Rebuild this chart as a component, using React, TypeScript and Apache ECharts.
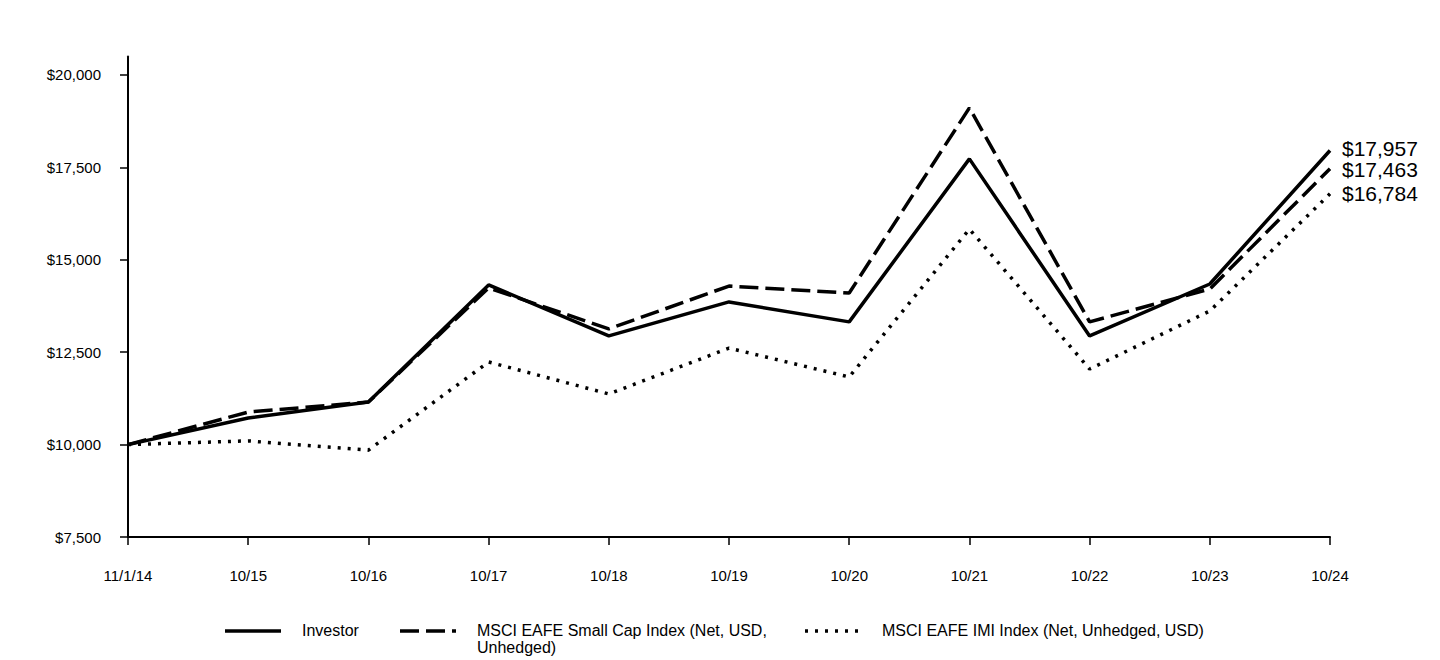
import React, { useEffect, useRef } from "react";
import * as echarts from "echarts";

const categories = ["11/1/14", "10/15", "10/16", "10/17", "10/18", "10/19", "10/20", "10/21", "10/22", "10/23", "10/24"];
const investor = [10000, 10720, 11150, 14320, 12940, 13860, 13320, 17730, 12940, 14345, 17957];
const smallCap = [10000, 10880, 11150, 14240, 13130, 14290, 14100, 19110, 13320, 14210, 17463];
const imi = [10000, 10100, 9850, 12235, 11370, 12610, 11830, 15830, 12045, 13615, 16784];
const names = ["Investor", "MSCI EAFE Small Cap Index (Net, USD,\nUnhedged)", "MSCI EAFE IMI Index (Net, Unhedged, USD)"];
const dashes: any[] = [null, [19, 7], [3, 7]];

const FONT = "Liberation Sans, Arial, sans-serif";

export default function App() {
  const ref = useRef<HTMLDivElement>(null);
  useEffect(() => {
    if (!ref.current) return;
    const chart = echarts.init(ref.current, null, { renderer: "svg" });
    const fmt = (v: number) => "$" + Math.round(v).toLocaleString("en-US");
    const mkSeries = (name: string, data: number[], type: any, offY: number) => ({
      name,
      type: "line",
      data,
      symbol: "none",
      lineStyle: { color: "#000", width: 3.5, type: type || "solid" },
      itemStyle: { color: "#000" },
      endLabel: {
        show: true,
        formatter: (p: any) => fmt(p.value),
        fontFamily: FONT,
        fontSize: 21,
        lineHeight: 20,
        color: "#000",
        distance: 12,
        offset: [0, offY],
      },
    });
    const legendX = [225, 400, 805];
    const legendGraphics: any[] = [];
    names.forEach((n, i) => {
      legendGraphics.push({
        type: "line",
        shape: { x1: legendX[i], y1: 631, x2: legendX[i] + 56, y2: 631 },
        style: { stroke: "#000", lineWidth: 3.5, lineDash: dashes[i] || undefined },
      });
      legendGraphics.push({
        type: "text",
        x: legendX[i] + 77,
        y: 622,
        style: {
          text: n,
          fill: "#000",
          font: `16px ${FONT}`,
          lineHeight: 17,
          verticalAlign: "top",
          align: "left",
        },
      });
    });
    chart.setOption({
      animation: false,
      backgroundColor: "#fff",
      grid: { left: 128, right: 110, top: 56.5, bottom: 123, containLabel: false },
      xAxis: {
        type: "category",
        data: categories,
        boundaryGap: false,
        axisLine: { lineStyle: { color: "#000", width: 2 } },
        axisTick: { show: true, length: 8, lineStyle: { color: "#000", width: 1.5 } },
        axisLabel: { color: "#000", fontFamily: FONT, fontSize: 15, margin: 31 },
        splitLine: { show: false },
      },
      yAxis: {
        type: "value",
        min: 7500,
        max: 20500,
        interval: 2500,
        axisLine: { show: true, lineStyle: { color: "#000", width: 2 } },
        axisTick: { show: true, length: 8, lineStyle: { color: "#000", width: 1.5 } },
        axisLabel: { color: "#000", fontFamily: FONT, fontSize: 15, margin: 27, formatter: fmt, showMaxLabel: false },
        splitLine: { show: false },
      },
      graphic: legendGraphics,
      series: [
        mkSeries(names[0], investor, null, -2),
        mkSeries(names[1], smallCap, dashes[1], 1),
        mkSeries(names[2], imi, dashes[2], 0),
      ],
    });
    return () => chart.dispose();
  }, []);
  return <div ref={ref} style={{ position: "absolute", left: 0, top: 0, width: 1440, height: 660 }} />;
}
